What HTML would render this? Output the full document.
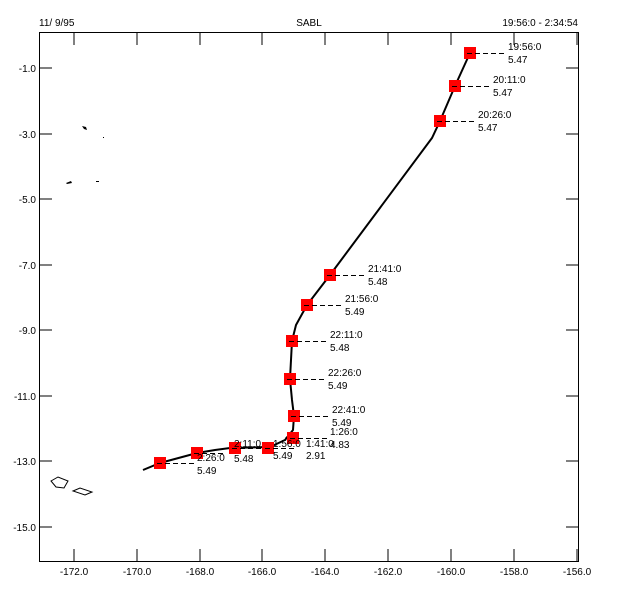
<!DOCTYPE html>
<html><head><style>
body{margin:0;background:#fff;}
svg text{font-family:"Liberation Sans",sans-serif;font-size:10px;fill:#000;}
</style></head><body>
<svg width="618" height="599" viewBox="0 0 618 599" xmlns="http://www.w3.org/2000/svg">
<rect width="618" height="599" fill="#fff"/>
<rect x="39.5" y="32.5" width="539" height="529" fill="none" stroke="#000"/>
<text x="39" y="26">11/ 9/95</text>
<text x="309" y="26" text-anchor="middle" font-size="12">SABL</text>
<text x="578" y="26" text-anchor="end">19:56:0 - 2:34:54</text>
<g stroke="#000" shape-rendering="crispEdges">
<path d="M74 562v-13M137 562v-13M200 562v-13M262 562v-13M325 562v-13M388 562v-13M451 562v-13M514 562v-13M577 562v-13"/>
<path d="M74 32v13M137 32v13M200 32v13M262 32v13M325 32v13M388 32v13M451 32v13M514 32v13M577 32v13"/>
<path d="M39 68h13M39 134h13M39 199h13M39 265h13M39 330h13M39 396h13M39 461h13M39 527h13"/>
<path d="M579 68h-13M579 134h-13M579 199h-13M579 265h-13M579 330h-13M579 396h-13M579 461h-13M579 527h-13"/>
</g>
<g text-anchor="end">
<text x="36" y="72">-1.0</text><text x="36" y="138">-3.0</text><text x="36" y="203">-5.0</text><text x="36" y="269">-7.0</text><text x="36" y="334">-9.0</text><text x="36" y="400">-11.0</text><text x="36" y="465">-13.0</text><text x="36" y="531">-15.0</text>
</g>
<g text-anchor="middle">
<text x="74" y="575">-172.0</text><text x="137" y="575">-170.0</text><text x="200" y="575">-168.0</text><text x="262" y="575">-166.0</text><text x="325" y="575">-164.0</text><text x="388" y="575">-162.0</text><text x="451" y="575">-160.0</text><text x="514" y="575">-158.0</text><text x="577" y="575">-156.0</text>
</g>
<g fill="#000"><path d="M82 126l4 1 1 3-3-1z"/><rect x="103" y="137" width="1" height="1"/><path d="M66 183l5-2 1 2-5 1z"/><path d="M96 181h3v1h-3z"/></g>
<g fill="none" stroke="#000"><path d="M51 481l7-4 10 4-4 7-8-1z"/><path d="M73 491l7-3 12 4-7 3z"/></g>
<path d="M470 53L455 86L440 121L432 138L330 275L307 305L296 325L292 341L290 379L292 400L294 416L293 430L285 440L270 447L230 448L215 450L197 453L160 463L143 470" fill="none" stroke="#000" stroke-width="2"/>
<path d="M285 438l8-8-2 10z" fill="#000"/>
<g fill="#f00">
<rect x="464" y="47" width="12" height="12"/><rect x="449" y="80" width="12" height="12"/><rect x="434" y="115" width="12" height="12"/><rect x="324" y="269" width="12" height="12"/><rect x="301" y="299" width="12" height="12"/><rect x="286" y="335" width="12" height="12"/><rect x="284" y="373" width="12" height="12"/><rect x="288" y="410" width="12" height="12"/><rect x="287" y="432" width="12" height="12"/><rect x="262" y="442" width="12" height="12"/><rect x="229" y="442" width="12" height="12"/><rect x="191" y="447" width="12" height="12"/><rect x="154" y="457" width="12" height="12"/>
</g>
<g stroke="#000" stroke-dasharray="5,3" fill="none" shape-rendering="crispEdges">
<path d="M467 53.5h38M452 86.5h38M437 121.5h38M327 275.5h38M304 305.5h38M289 341.5h38M287 379.5h38M291 416.5h38M290 438.5h38M265 448.5h30M232 448.5h30M194 453.5h30M157 463.5h38"/>
</g>
<text x="508" y="50">19:56:0</text><text x="508" y="63">5.47</text>
<text x="493" y="83">20:11:0</text><text x="493" y="96">5.47</text>
<text x="478" y="118">20:26:0</text><text x="478" y="131">5.47</text>
<text x="368" y="272">21:41:0</text><text x="368" y="285">5.48</text>
<text x="345" y="302">21:56:0</text><text x="345" y="315">5.49</text>
<text x="330" y="338">22:11:0</text><text x="330" y="351">5.48</text>
<text x="328" y="376">22:26:0</text><text x="328" y="389">5.49</text>
<text x="332" y="413">22:41:0</text><text x="332" y="426">5.49</text>
<text x="330" y="435">1:26:0</text><text x="330" y="448">4.83</text>
<text x="306" y="447">1:41:0</text><text x="306" y="459">2.91</text>
<text x="273" y="447">1:56:0</text><text x="273" y="459">5.49</text>
<text x="234" y="447">2:11:0</text><text x="234" y="462">5.48</text>
<text x="197" y="461">2:26:0</text><text x="197" y="474">5.49</text>
</svg>
</body></html>
